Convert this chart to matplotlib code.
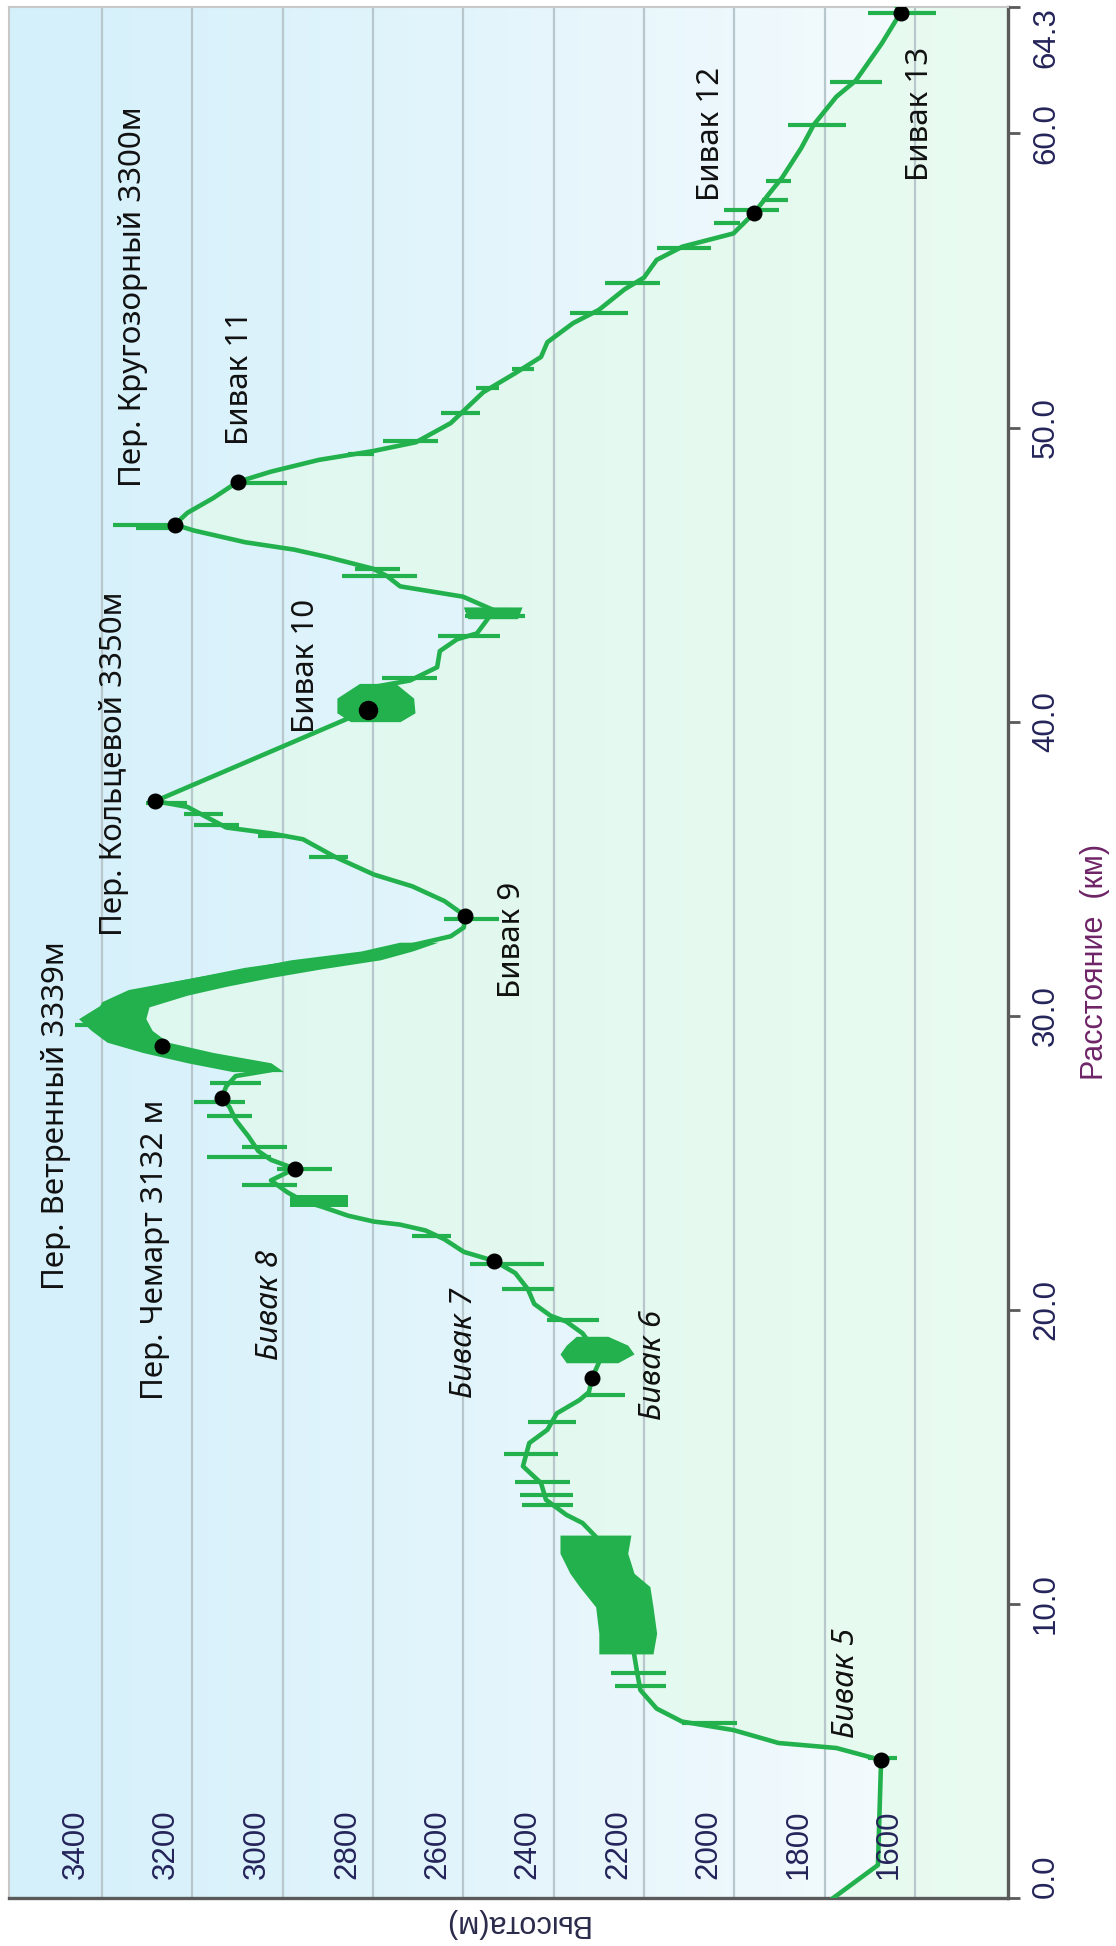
import numpy as np
import matplotlib.pyplot as plt
from matplotlib.colors import LinearSegmentedColormap

# elevation profile, distance (km) / elevation (m)
PROFILE_KM = [0.0, 1.12, 4.69, 5.1, 5.27, 5.71, 6.0, 6.44, 7.07, 7.65, 8.3, 9.0, 9.9,
              10.7, 11.5, 12.29, 12.75, 13.03, 13.54, 14.11, 14.68, 15.47, 15.92,
              16.48, 16.93, 17.2, 17.68, 18.2, 18.6, 19.2, 19.6, 19.8, 20.2, 20.7,
              21.25, 21.66, 21.97, 22.4, 22.7, 22.9, 23.0, 23.2, 23.5, 23.7, 24.0,
              24.4, 24.8, 25.1, 25.4, 25.9, 26.45, 26.9, 27.2, 27.6, 27.95, 28.15,
              28.55, 28.97, 29.5, 29.95, 30.4, 30.8, 31.2, 31.55, 31.8, 32.0, 32.3,
              32.7, 33.0, 33.4, 33.9, 34.4, 34.8, 35.4, 36.0, 36.2, 36.4, 36.75,
              37.1, 37.3, 40.4, 41.2, 41.4, 41.85, 42.4, 42.8, 43.0, 43.45, 43.8,
              44.25, 44.6, 44.95, 45.2, 45.6, 45.85, 46.1, 46.5, 46.7, 47.1, 47.6,
              48.15, 48.5, 48.9, 49.2, 49.5, 50.15, 51.2, 51.85, 52.4, 52.9, 53.55,
              54.0, 54.7, 55.1, 55.7, 56.15, 56.6, 57.3, 57.95, 58.5, 59.5, 60.3,
              61.25, 61.8, 63.05, 64.1, 64.3]
PROFILE_M = [1781, 1682, 1675, 1774, 1902, 2002, 2116, 2172, 2208, 2215, 2222, 2236, 2243,
             2272, 2307, 2307, 2336, 2372, 2417, 2428, 2468, 2454, 2414,
             2393, 2343, 2322, 2315, 2300, 2307, 2336, 2372, 2407, 2443, 2457,
             2485, 2531, 2599, 2642, 2684, 2741, 2798, 2855, 2912, 2955, 2990,
             3026, 2973, 3026, 3054, 3076, 3104, 3118, 3135, 3125, 3104, 3026,
             3154, 3268, 3353, 3410, 3396, 3339, 3197, 3083, 2969, 2855, 2741,
             2628, 2599, 2596, 2642, 2713, 2798, 2884, 2955, 3026, 3125, 3168,
             3211, 3282, 2811, 2791, 2718, 2658, 2652, 2614, 2570, 2548, 2534,
             2601, 2740, 2769, 2800, 2902, 2975, 3083, 3197, 3239, 3211, 3154,
             3100, 3026, 2920, 2800, 2705, 2628, 2556, 2485, 2428, 2414, 2357,
             2300, 2243, 2200, 2172, 2115, 2002, 1956, 1923, 1894, 1852, 1824,
             1774, 1731, 1674, 1632, 1640]

# short GPS elevation spikes: distance, lowest and highest elevation
SPIKE_KM = [4.75, 5.96, 7.2, 7.65, 13.35, 13.7, 14.15, 15.1, 16.2, 17.1, 19.65, 20.7,
            21.55, 22.5, 24.25, 24.8, 25.2, 25.55, 26.6, 27.05, 27.7, 29.7, 33.3,
            35.4, 36.1, 36.5, 36.85, 37.25, 41.5, 42.9, 43.6, 43.8, 44.95, 45.2,
            46.6, 46.7, 48.1, 49.1, 49.55, 50.5, 51.35, 52.0, 53.9, 54.9, 56.1,
            56.95, 57.4, 57.75, 58.4, 60.3, 61.75, 64.1]
SPIKE_LO = [1639, 1995, 2151, 2151, 2357, 2357, 2364, 2390, 2350, 2243, 2300, 2400,
            2421, 2628, 2969, 2891, 3026, 2990, 3068, 3083, 3047, 3396, 2521,
            2855, 2990, 3097, 3133, 3211, 2658, 2519, 2463, 2497, 2703, 2740,
            3239, 3232, 2990, 2798, 2656, 2564, 2521, 2443, 2236, 2165, 2051,
            1987, 1902, 1881, 1874, 1753, 1674, 1554]
SPIKE_HI = [1703, 2116, 2265, 2272, 2471, 2474, 2485, 2510, 2457, 2330, 2414, 2514,
            2585, 2713, 3090, 3012, 3168, 3090, 3168, 3196, 3161, 3460, 2642,
            2941, 3054, 3197, 3218, 3303, 2780, 2656, 2596, 2596, 2869, 2840,
            3324, 3375, 3083, 2855, 2777, 2649, 2571, 2492, 2364, 2286, 2172,
            2044, 2023, 1938, 1930, 1881, 1788, 1703]

# dense noisy stretches: distance, lower and upper envelope
NOISE_A_KM = [8.3, 9.0, 9.9, 10.59, 11.04, 11.72, 12.34]
NOISE_A_LO = [2180, 2172, 2180, 2187, 2222, 2236, 2229]
NOISE_A_HI = [2300, 2300, 2307, 2343, 2364, 2386, 2386]
NOISE_B_KM = [18.2, 18.5, 18.8, 19.1]
NOISE_B_LO = [2258, 2222, 2236, 2280]
NOISE_B_HI = [2372, 2386, 2372, 2350]
NOISE_C_KM = [23.5, 23.9]
NOISE_C_LO = [2855, 2855]
NOISE_C_HI = [2983, 2983]
NOISE_D_KM = [28.1, 28.4, 28.75, 29.1, 29.5, 29.9, 30.3, 30.7, 31.0, 31.3, 31.6,
              31.9, 32.2, 32.5]
NOISE_D_LO = [2998, 3026, 3154, 3254, 3289, 3303, 3296, 3211, 3125, 3026, 2912,
              2784, 2713, 2656]
NOISE_D_HI = [3111, 3211, 3310, 3389, 3424, 3452, 3410, 3367, 3296, 3197, 3083,
              2983, 2827, 2741]
NOISE_E_KM = [40.0, 40.3, 40.8, 41.3]
NOISE_E_LO = [2740, 2707, 2710, 2750]
NOISE_E_HI = [2850, 2880, 2880, 2830]
NOISE_F_KM = [43.5, 43.9]
NOISE_F_LO = [2480, 2470]
NOISE_F_HI = [2590, 2600]

# waypoints (black dots)
POINT_KM = [4.69, 17.68, 21.66, 24.8, 27.2, 28.97, 33.4, 37.3, 46.7, 48.15, 57.3, 64.1]
POINT_M = [1675, 2315, 2531, 2973, 3135, 3268, 2596, 3282, 3239, 3100, 1956, 1632]
BIG_POINT_KM = [40.4]
BIG_POINT_M = [2811]

# annotations: text, elevation of text centre, distance where text starts, italic
LABEL_TEXT = ["Пер. Ветренный 3339м", "Пер. Кольцевой 3350м", "Пер. Кругозорный 3300м",
              "Пер. Чемарт 3132 м", "Бивак 5", "Бивак 6", "Бивак 7", "Бивак 8",
              "Бивак 9", "Бивак 10", "Бивак 11", "Бивак 12", "Бивак 13"]
LABEL_M = [3502, 3373, 3331, 3283, 1753, 2180, 2598, 3028, 2492, 2948, 3094, 2052, 1589]
LABEL_KM = [20.67, 32.7, 47.98, 16.93, 5.44, 16.25, 17.0, 18.29, 30.6, 39.6, 49.4, 57.7, 58.4]
LABEL_ITALIC = [False, False, False, False, True, True, True, True,
                False, False, False, False, False]

ELEV_TICKS = [1600, 1800, 2000, 2200, 2400, 2600, 2800, 3000, 3200, 3400]
DIST_TICKS = [0.0, 10.0, 20.0, 30.0, 40.0, 50.0, 60.0, 64.3]

ELEV_MIN, ELEV_MAX = 1394, 3606
GREEN = '#22b14c'

fig = plt.figure(figsize=(11.16, 19.46), dpi=100)
ax = fig.add_axes([9 / 1116, 48 / 1946, 999 / 1116, 1891 / 1946])

# background gradient (blue at high elevation)
bg = LinearSegmentedColormap.from_list('bg', ['#d4f0fb', '#e4f5fb', '#f8fcfe'])
ax.imshow(np.linspace(0, 1, 256).reshape(1, -1), cmap=bg, extent=(0, 1, 0, 1),
          transform=ax.transAxes, aspect='auto', zorder=0)

ax.fill_betweenx(PROFILE_KM, PROFILE_M, ELEV_MIN, color='#e2fbe9', alpha=0.65,
                 lw=0, zorder=1)

for e in ELEV_TICKS:
    ax.axvline(e, color='#b7c7cb', lw=1.6, zorder=2)

ax.plot(PROFILE_M, PROFILE_KM, color=GREEN, lw=3.3, zorder=4, solid_joinstyle='round')
ax.hlines(SPIKE_KM, SPIKE_LO, SPIKE_HI, color=GREEN, lw=3.0, zorder=4)
for km, lo, hi in [(NOISE_A_KM, NOISE_A_LO, NOISE_A_HI), (NOISE_B_KM, NOISE_B_LO, NOISE_B_HI),
                   (NOISE_C_KM, NOISE_C_LO, NOISE_C_HI), (NOISE_D_KM, NOISE_D_LO, NOISE_D_HI),
                   (NOISE_E_KM, NOISE_E_LO, NOISE_E_HI), (NOISE_F_KM, NOISE_F_LO, NOISE_F_HI)]:
    ax.fill_betweenx(km, lo, hi, color=GREEN, lw=0, zorder=4)

ax.plot(POINT_M, POINT_KM, 'o', color='black', ms=10.5, zorder=5)
ax.plot(BIG_POINT_M, BIG_POINT_KM, 'o', color='black', ms=13, zorder=5)

for txt, m, km, it in zip(LABEL_TEXT, LABEL_M, LABEL_KM, LABEL_ITALIC):
    ax.text(m, km, txt, rotation=90, ha='center', va='bottom', fontsize=22.5,
            family='Noto Sans', style='italic' if it else 'normal', color='#111111',
            zorder=6)

ax.set_xlim(ELEV_MAX, ELEV_MIN)
ax.set_ylim(0, 64.3)

# elevation labels sit inside the plot, just left of their grid line
ax.set_xticks([])
for e in ELEV_TICKS:
    ax.annotate(str(e), xy=(e, 0), xycoords=('data', 'axes fraction'),
                xytext=(-8, 14), textcoords='offset points', rotation=90,
                ha='right', va='bottom', fontsize=22.5, family='Liberation Sans',
                color='#24245a', zorder=6)

ax.yaxis.tick_right()
ax.set_yticks(DIST_TICKS)
labels = ax.set_yticklabels(['%.1f' % d for d in DIST_TICKS], rotation=90, va='center',
                            fontsize=22.5, family='Liberation Sans', color='#24245a')
labels[0].set_va('bottom')
labels[-1].set_va('top')
ax.tick_params(axis='y', direction='out', length=8.5, width=2, color='#5a5a5a', pad=8)

for side in ['right', 'bottom']:
    ax.spines[side].set_color('#5a5a5a')
    ax.spines[side].set_linewidth(2.4)
for side in ['left', 'top']:
    ax.spines[side].set_color('#c8c8c8')
    ax.spines[side].set_linewidth(1.5)

ax.text(1.087, 0.495, 'Расстояние  (км)', transform=ax.transAxes, rotation=90,
        ha='center', va='center', fontsize=22, family='Liberation Sans', color='#6e2466')
ax.text(0.507, -0.0132, 'Высота(м)', transform=ax.transAxes, rotation=180,
        ha='center', va='center', fontsize=22, family='Liberation Sans', color='#2a2a4a')

fig.savefig('out.png', dpi=100)
